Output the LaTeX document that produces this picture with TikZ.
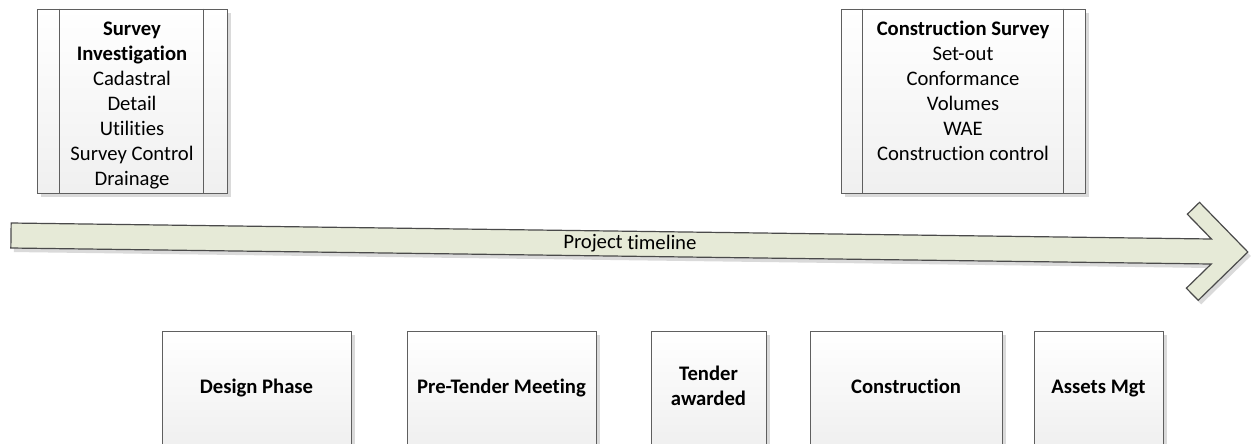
\documentclass[tikz,border=0pt]{standalone}
\usepackage{fontspec}
\setmainfont{Carlito}[Ligatures=NoCommon]
\usetikzlibrary{shadows}
\definecolor{boxline}{HTML}{5F5F5F}
\definecolor{arrowfill}{HTML}{E6EAD7}
\definecolor{arrowline}{HTML}{4A4A4A}
\definecolor{shadowgray}{HTML}{DADADA}
\begin{document}
\begin{tikzpicture}[x=0.75pt,y=-0.75pt,
  font=\fontsize{15.5}{18.75}\selectfont,
  boxstyle/.style={draw=boxline, line width=0.75pt, top color=white, bottom color=black!6,
    drop shadow={shadow xshift=3pt, shadow yshift=-3pt, fill=shadowgray, opacity=1}, inner sep=0pt},
  phasebox/.style={boxstyle, minimum height=85.5pt, align=center,
    font=\fontsize{15.5}{18.75}\selectfont\bfseries},
  sidebox/.style={boxstyle, minimum height=138pt},
  listtext/.style={anchor=north, align=center, inner sep=0pt},
  divider/.style={draw=boxline, line width=0.75pt}]
\useasboundingbox (0,0) rectangle (1256,443);
\clip (0,0) rectangle (1256,443);

% top boxes
\node[sidebox, minimum width=142.5pt] (sib) at (132,101) {};
\draw[divider] ([xshift=17.25pt]sib.north west) -- ([xshift=17.25pt]sib.south west);
\draw[divider] ([xshift=-18pt]sib.north east) -- ([xshift=-18pt]sib.south east);
\node[listtext] (sit) at (132,21.5) {\textbf{Survey}\\\textbf{Investigation}\\Cadastral\\Detail\\Utilities\\Survey Control\\Drainage};

\node[sidebox, minimum width=183pt] (csb) at (963,101) {};
\draw[divider] ([xshift=16.5pt]csb.north west) -- ([xshift=16.5pt]csb.south west);
\draw[divider] ([xshift=-16.5pt]csb.north east) -- ([xshift=-16.5pt]csb.south east);
\node[listtext] (cst) at (963,20.5) {\textbf{Construction Survey}\\Set-out\\Conformance\\Volumes\\WAE\\Construction control};

% timeline arrow
\begin{scope}[shift={(11,235.5)}, rotate=-0.764]
\fill[shadowgray, shift={(3,4)}] (0,-12.5) -- (1200.5,-12.5) -- (1176,-37) -- (1188,-49) -- (1237,0) -- (1188,49) -- (1176,37) -- (1200.5,12.5) -- (0,12.5) -- cycle;
\path[draw=arrowline, line width=0.9pt, fill=arrowfill, line join=miter] (0,-12.5) -- (1200.5,-12.5) -- (1176,-37) -- (1188,-49) -- (1237,0) -- (1188,49) -- (1176,37) -- (1200.5,12.5) -- (0,12.5) -- cycle;
\node[rotate=-0.764, inner sep=0pt] (ptl) at (619,0) {Project timeline};
\end{scope}

% phase boxes
\node[phasebox, minimum width=141.75pt] (dp) at (256.5,388) {\strut Design Phase};
\node[phasebox, minimum width=141.75pt] (ptm) at (501.5,388) {\strut Pre-Tender Meeting};
\node[phasebox, minimum width=86.25pt] (ta) at (708.5,388) {\strut Tender\\\strut awarded};
\node[phasebox, minimum width=144pt] (con) at (906,388) {\strut Construction};
\node[phasebox, minimum width=96.75pt] (am) at (1098.5,388) {\strut Assets Mgt};
\end{tikzpicture}
\end{document}
